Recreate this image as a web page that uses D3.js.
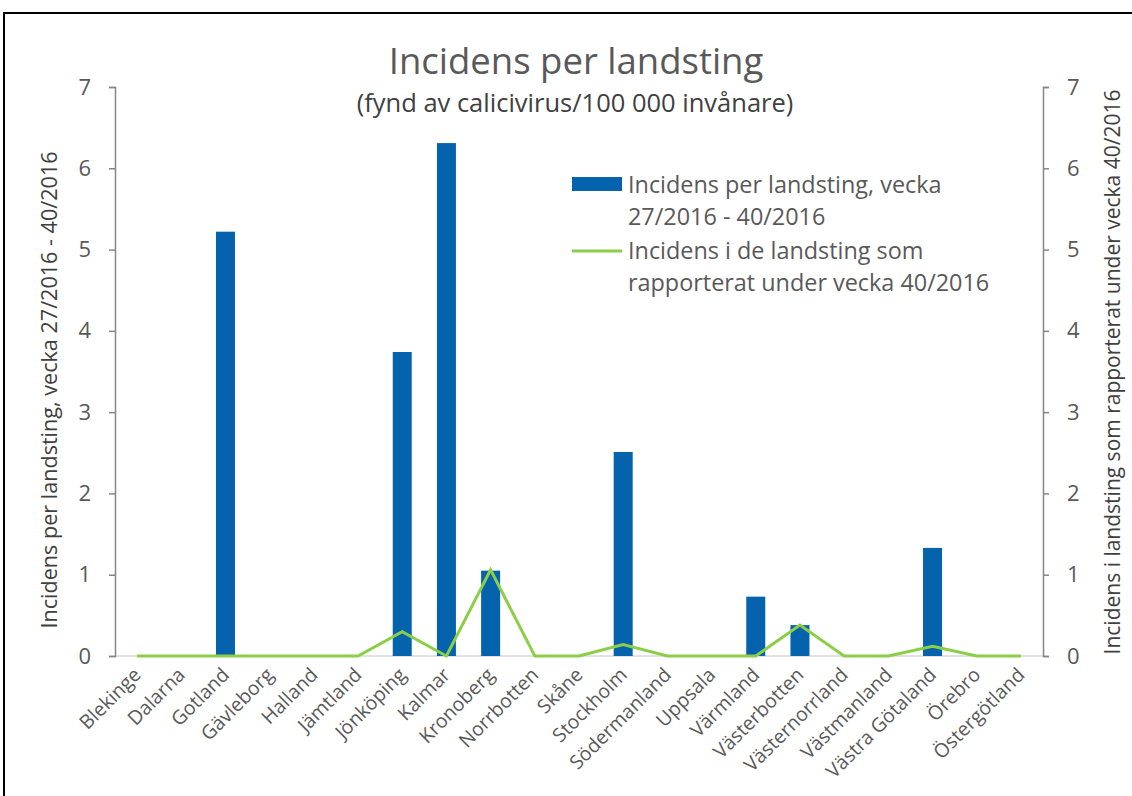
<!DOCTYPE html>
<html><head><meta charset="utf-8">
<script src="https://cdn.jsdelivr.net/npm/d3@7"></script>
<style>body{margin:0;background:#fff}svg{display:block}</style>
</head><body>
<svg id="c" width="1132" height="796"></svg>
<script>
const categories = ["Blekinge","Dalarna","Gotland","Gävleborg","Halland","Jämtland","Jönköping","Kalmar","Kronoberg","Norrbotten","Skåne","Stockholm","Södermanland","Uppsala","Värmland","Västerbotten","Västernorrland","Västmanland","Västra Götaland","Örebro","Östergötland"];
const barValues = [0,0,5.22,0,0,0,3.74,6.31,1.05,0,0,2.51,0,0,0.73,0.38,0,0,1.33,0,0];
const lineValues = [0,0,0,0,0,0,0.30,0,1.06,0,0,0.14,0,0,0,0.38,0,0,0.12,0,0];
const yTicks = [0,1,2,3,4,5,6,7];
const barName = ["Incidens per landsting, vecka","27/2016 - 40/2016"];
const lineName = ["Incidens i de landsting som","rapporterat under vecka 40/2016"];

const svg = d3.select("#c");
const m = {l:115, r:1043, t:87, b:656};
const font = "'Open Sans', sans-serif";
const gray = "#595959";

svg.append("rect").attr("x",4).attr("y",13).attr("width",1140).attr("height",800)
  .attr("fill","none").attr("stroke","#000").attr("stroke-width",2);

const x = d3.scaleBand().domain(categories).range([m.l,m.r]).paddingInner(0.57).paddingOuter(0.285);
const xp = d3.scalePoint().domain(categories).range([m.l,m.r]).padding(0.5);
const yL = d3.scaleLinear().domain([0,7]).range([m.b,m.t]);
const yR = d3.scaleLinear().domain([0,7]).range([m.b,m.t]);

svg.append("line").attr("x1",m.l).attr("x2",m.r).attr("y1",yL(0)).attr("y2",yL(0))
  .attr("stroke","#d9d9d9").attr("stroke-width",1.5);

svg.selectAll("rect.bar").data(barValues).join("rect").attr("class","bar")
  .attr("x",(d,i)=>x(categories[i])).attr("width",x.bandwidth())
  .attr("y",d=>yL(d)).attr("height",d=>yL(0)-yL(d)).attr("fill","#0563ad");

const line = d3.line().x((d,i)=>xp(categories[i])).y(d=>yR(d));
svg.append("path").datum(lineValues).attr("d",line).attr("fill","none")
  .attr("stroke","#8cce47").attr("stroke-width",3).attr("stroke-linejoin","miter");

const gl = svg.append("g").attr("transform",`translate(${m.l},0)`)
  .call(d3.axisLeft(yL).tickValues(yTicks).tickSize(6).tickPadding(18).tickFormat(d3.format("d")));
const gr = svg.append("g").attr("transform",`translate(${m.r},0)`)
  .call(d3.axisRight(yR).tickValues(yTicks).tickSize(6).tickPadding(18).tickFormat(d3.format("d")));
[gl,gr].forEach(g=>{
  g.select(".domain").attr("stroke","#868686").attr("stroke-width",1.5);
  g.selectAll(".tick line").attr("stroke","#868686").attr("stroke-width",1.5);
  g.selectAll(".tick text").attr("fill",gray).style("font-family",font).style("font-size","22px");
});

const gx = svg.append("g");
gx.selectAll("text").data(categories).join("text")
  .attr("transform",d=>`translate(${xp(d)+5},${m.b+20}) rotate(-45)`)
  .attr("text-anchor","end").attr("fill",gray).style("font-family",font).style("font-size","19.5px")
  .text(d=>d);

svg.append("text").attr("x",576).attr("y",74).attr("text-anchor","middle").attr("fill",gray)
  .style("font-family",font).style("font-size","36.5px").text("Incidens per landsting");
svg.append("text").attr("x",575).attr("y",112).attr("text-anchor","middle").attr("fill","#404040")
  .style("font-family",font).style("font-size","25.5px").text("(fynd av calicivirus/100 000 invånare)");

svg.append("text").attr("transform",`translate(57,390) rotate(-90)`).attr("text-anchor","middle")
  .attr("fill","#404040").style("font-family",font).style("font-size","21.6px")
  .text("Incidens per landsting, vecka 27/2016 - 40/2016");
svg.append("text").attr("transform",`translate(1120,372) rotate(-90)`).attr("text-anchor","middle")
  .attr("fill","#404040").style("font-family",font).style("font-size","21px")
  .text("Incidens i landsting som rapporterat under vecka 40/2016");

const lg = svg.append("g");
lg.append("rect").attr("x",572).attr("y",177).attr("width",50).attr("height",14).attr("fill","#0563ad");
lg.append("line").attr("x1",572).attr("x2",622).attr("y1",251).attr("y2",251).attr("stroke","#8cce47").attr("stroke-width",3);
[[barName,193],[lineName,259]].forEach(([t,y])=>{
  t.forEach((s,j)=>lg.append("text").attr("x",628).attr("y",y+j*32).attr("fill",gray)
    .style("font-family",font).style("font-size","23.4px").text(s));
});
</script>
</body></html>
